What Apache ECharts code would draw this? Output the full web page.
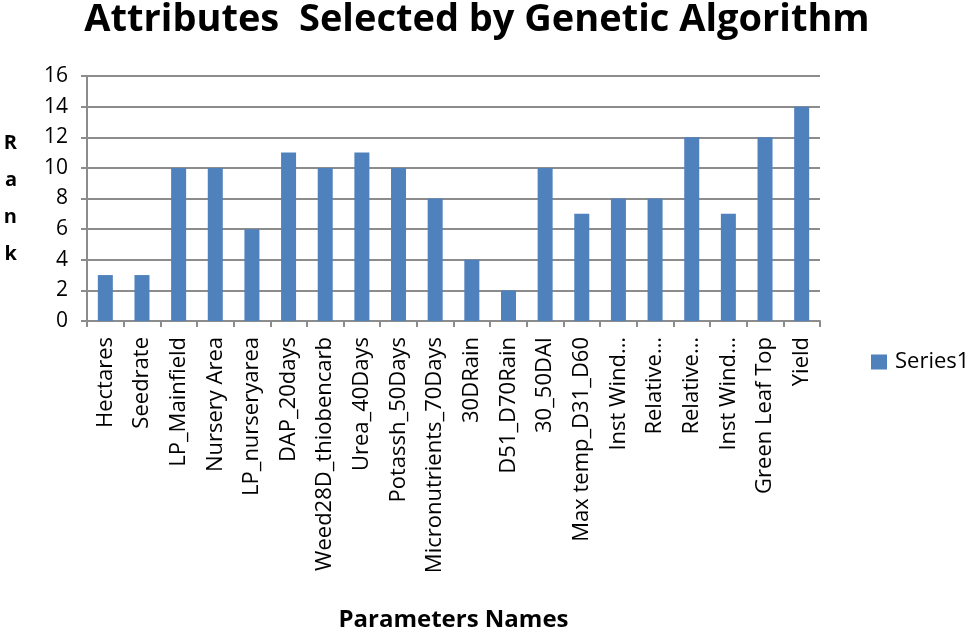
<!DOCTYPE html>
<html>
<head>
<meta charset="utf-8">
<script src="https://cdn.jsdelivr.net/npm/echarts@6/dist/echarts.min.js"></script>
<style>
  html, body { margin: 0; padding: 0; background: #fff; }
  #main { width: 980px; height: 632px; }
</style>
</head>
<body>
<div id="main"></div>
<script>
// parameter names along the x axis
var paramNames = ['Hectares', 'Seedrate', 'LP_Mainfield', 'Nursery Area', 'LP_nurseryarea',
  'DAP_20days', 'Weed28D_thiobencarb', 'Urea_40Days', 'Potassh_50Days', 'Micronutrients_70Days',
  '30DRain', 'D51_D70Rain', '30_50DAI', 'Max temp_D31_D60', 'Inst Wind…', 'Relative…',
  'Relative…', 'Inst Wind…', 'Green Leaf Top', 'Yield'];
// rank of each parameter
var ranks = [3, 3, 10, 10, 6, 11, 10, 11, 10, 8, 4, 2, 10, 7, 8, 8, 12, 7, 12, 14];
var rankTicks = [0, 16, 2];

var font = 'Open Sans';
var chart = echarts.init(document.getElementById('main'));
chart.setOption({
  animation: false,
  title: {
    text: 'Attributes  Selected by Genetic Algorithm',
    left: 472,
    textAlign: 'center',
    top: -4,
    textStyle: { fontFamily: font, fontWeight: 'bold', fontSize: 38, color: '#000' }
  },
  legend: {
    data: ['Series1'],
    left: 866,
    top: 346,
    itemWidth: 16,
    itemHeight: 15,
    icon: 'rect',
    textStyle: { fontFamily: font, fontSize: 22, color: '#000', padding: [0, 0, 0, 3] }
  },
  grid: { left: 87, right: 160, top: 76, bottom: 311, containLabel: false, outerBoundsMode: 'none' },
  xAxis: {
    type: 'category',
    data: paramNames,
    name: 'Parameters Names',
    nameLocation: 'middle',
    nameGap: 287,
    nameTextStyle: { fontFamily: font, fontWeight: 'bold', fontSize: 24, color: '#000' },
    axisLine: { lineStyle: { color: '#8c8c8c', width: 2 } },
    axisTick: { show: true, length: 6, lineStyle: { color: '#8c8c8c', width: 2 } },
    axisLabel: {
      interval: 0,
      rotate: 90,
      margin: 16,
      fontFamily: font,
      fontSize: 22,
      color: '#000'
    }
  },
  yAxis: {
    type: 'value',
    min: rankTicks[0],
    max: rankTicks[1],
    interval: rankTicks[2],
    name: 'R\na\nn\nk',
    nameLocation: 'middle',
    nameRotate: 0,
    nameGap: 70,
    nameTextStyle: { fontFamily: font, fontWeight: 'bold', fontSize: 20, lineHeight: 37, color: '#000' },
    axisLine: { show: true, lineStyle: { color: '#8c8c8c', width: 2 } },
    axisTick: { show: true, length: 6, lineStyle: { color: '#8c8c8c', width: 2 } },
    axisLabel: { fontFamily: font, fontSize: 21, color: '#000', margin: 19 },
    splitLine: { lineStyle: { color: '#8c8c8c', width: 2 } }
  },
  series: [{
    name: 'Series1',
    type: 'bar',
    data: ranks,
    barWidth: 15,
    itemStyle: { color: '#4f81bd' }
  }]
});
</script>
</body>
</html>
